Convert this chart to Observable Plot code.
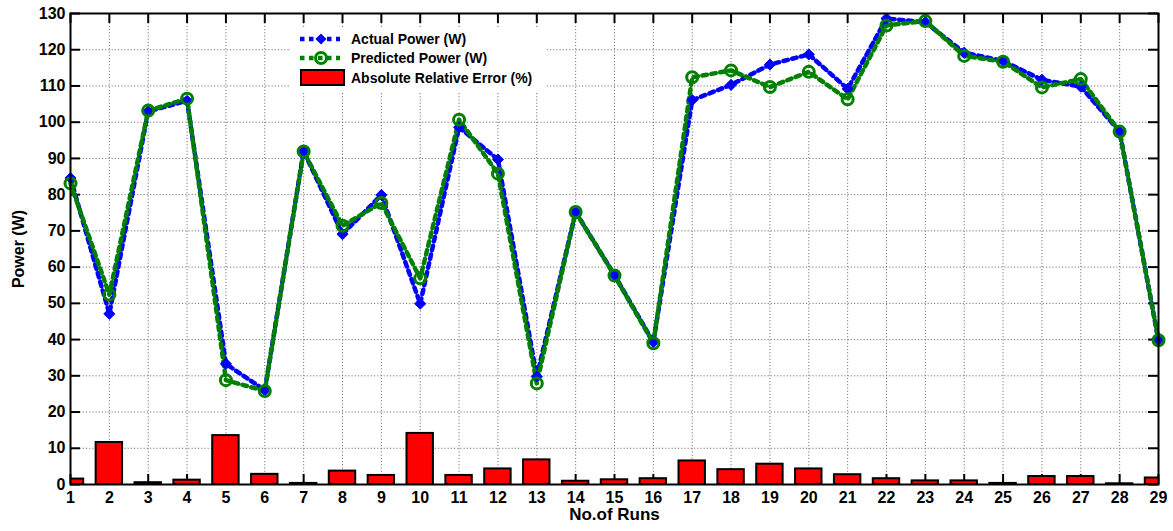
<!DOCTYPE html>
<html><head><meta charset="utf-8">
<script src="https://cdn.jsdelivr.net/npm/d3@7"></script>
<script src="https://cdn.jsdelivr.net/npm/@observablehq/plot@0.6"></script>
<style>
body{margin:0;background:#fff;font-family:"Liberation Sans",Arial,sans-serif;}
#wrap{position:relative;width:1173px;height:531px;overflow:hidden;}
#legend{position:absolute;left:291px;top:28px;width:255px;height:64px;background:#fff;}
#legend .row{position:absolute;left:0;height:20px;display:flex;align-items:center;font-weight:bold;font-size:14px;color:#000;white-space:nowrap;}
#legend svg{display:block;margin-right:5px;}
</style></head><body><div id="wrap"><div id="legend"></div></div>
<script>
const runs = [1,2,3,4,5,6,7,8,9,10,11,12,13,14,15,16,17,18,19,20,21,22,23,24,25,26,27,28,29];
const actualPower = [84.6,47.1,103.0,105.9,33.3,26.0,92.0,69.1,79.9,49.9,98.6,89.7,29.8,75.2,57.8,39.3,106.1,110.3,115.9,118.7,109.2,128.6,127.6,119.2,116.9,111.7,109.8,97.4,39.8];
const predictedPower = [83.1,52.4,103.2,106.5,28.8,25.8,91.9,71.4,77.7,56.9,100.7,85.8,27.9,75.2,57.7,39.0,112.4,114.3,109.7,113.9,106.3,126.7,127.9,118.3,116.7,109.6,111.9,97.4,39.8];
const errorPct = [1.5,11.6,0.5,1.2,13.5,2.8,0.3,3.7,2.5,14.1,2.5,4.3,6.8,0.9,1.3,1.6,6.5,4.1,5.6,4.3,2.7,1.6,1.0,1.0,0.3,2.2,2.2,0.2,1.8];
const yTicks = [0,10,20,30,40,50,60,70,80,90,100,110,120,130];
const seriesNames = ["Actual Power (W)","Predicted Power (W)","Absolute Relative Error (%)"];
const xLabel = "No.of Runs";
const yLabel = "Power (W)";

const rows = runs.map((r,i)=>({run:r, actual:actualPower[i], pred:predictedPower[i], err:errorPct[i]}));

const W=1173, H=531, mL=70, mR=15, mT=13, mB=47;
const innerW = W-mL-mR, innerH = H-mT-mB;
const BLUE="#0000ff", GREEN="#008000";
const halfBar = 0.34;
const DASH = "4.5,4.5";

const chart = Plot.plot({
  width:W, height:H,
  marginLeft:mL, marginRight:mR, marginTop:mT, marginBottom:mB,
  style:{fontFamily:"'Liberation Sans',Arial,sans-serif", fontSize:"16px", fontWeight:"bold", color:"#000", background:"#fff", overflow:"visible"},
  x:{domain:[1,29]},
  y:{domain:[0,130]},
  marks:[
    Plot.gridX(runs,{stroke:"#777", strokeOpacity:1, strokeWidth:1, strokeDasharray:"1.2,2"}),
    Plot.gridY(yTicks,{stroke:"#777", strokeOpacity:1, strokeWidth:1, strokeDasharray:"1.2,2"}),
    Plot.ruleX(runs,{x:d=>d, insetTop:innerH-10, stroke:"#000", strokeWidth:2}),
    Plot.ruleX(runs,{x:d=>d, insetBottom:innerH-10, stroke:"#000", strokeWidth:2}),
    Plot.ruleY(yTicks,{y:d=>d, insetRight:innerW-10, stroke:"#000", strokeWidth:2}),
    Plot.ruleY(yTicks,{y:d=>d, insetLeft:innerW-10, stroke:"#000", strokeWidth:2}),
    Plot.rectY(rows,{x1:d=>d.run-halfBar, x2:d=>d.run+halfBar, y1:0, y2:"err", fill:"#ff0000", stroke:"#000", strokeWidth:2, clip:true}),
    Plot.line(rows,{x:"run", y:"actual", stroke:BLUE, strokeWidth:4.5, strokeDasharray:DASH}),
    Plot.line(rows,{x:"run", y:"pred", stroke:GREEN, strokeWidth:4.5, strokeDasharray:DASH}),
    Plot.dot(rows,{x:"run", y:"actual", symbol:"diamond2", r:5, fill:BLUE, stroke:BLUE, strokeWidth:1}),
    Plot.dot(rows,{x:"run", y:"pred", symbol:"circle", r:5.5, fill:"none", stroke:GREEN, strokeWidth:3}),
    Plot.frame({stroke:"#000", strokeWidth:2}),
    Plot.axisX({ticks:runs, tickSize:0, tickPadding:7, tickFormat:d=>String(d), label:null, fontSize:16, fontWeight:"bold"}),
    Plot.axisY({ticks:yTicks, tickSize:0, tickPadding:5, tickFormat:d=>String(d), label:null, fontSize:16, fontWeight:"bold"}),
    Plot.text([yLabel],{frameAnchor:"left", dx:-52, rotate:-90, text:d=>d, fontSize:16, fontWeight:"bold", textAnchor:"middle", fill:"#000"}),
    Plot.text([xLabel],{frameAnchor:"bottom", dy:35, text:d=>d, fontSize:17, fontWeight:"bold", textAnchor:"middle", fill:"#000"})
  ]
});
const wrap = document.getElementById("wrap");
wrap.insertBefore(chart, wrap.firstChild);

// legend
const legend = d3.select("#legend");
const entries = [
  {name:seriesNames[0], kind:"actual", top:1},
  {name:seriesNames[1], kind:"pred", top:20},
  {name:seriesNames[2], kind:"bar", top:40}
];
entries.forEach(e=>{
  const row = legend.append("div").attr("class","row").style("top",e.top+"px").style("left","9px");
  const s = row.append("svg").attr("width",46).attr("height",20);
  if(e.kind==="bar"){
    s.append("rect").attr("x",1).attr("y",2).attr("width",43).attr("height",15).attr("fill","#ff0000").attr("stroke","#000").attr("stroke-width",2);
  } else {
    const c = e.kind==="actual"?BLUE:GREEN;
    s.append("line").attr("x1",0).attr("x2",40).attr("y1",10).attr("y2",10).attr("stroke",c).attr("stroke-width",4.5).attr("stroke-dasharray",DASH);
    if(e.kind==="actual"){
      s.append("path").attr("d",d3.symbol(d3.symbolDiamond2, Math.PI*25)()).attr("transform","translate(21,10)").attr("fill",c);
    } else {
      s.append("circle").attr("cx",21).attr("cy",10).attr("r",5.5).attr("fill","none").attr("stroke",c).attr("stroke-width",3);
    }
  }
  row.append("span").text(e.name);
});
</script>
</body></html>
